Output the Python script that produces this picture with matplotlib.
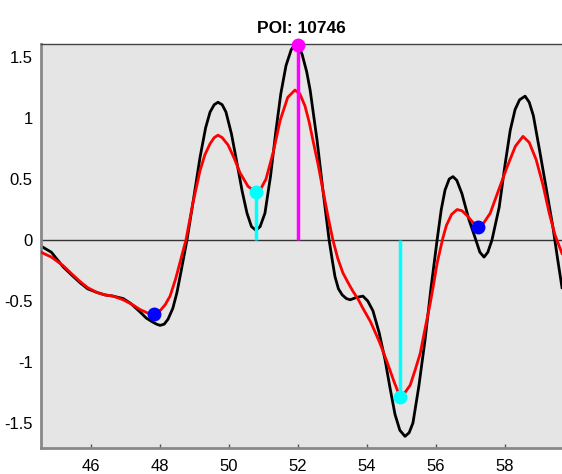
import matplotlib.pyplot as plt

plt.rcParams['font.family'] = ['Liberation Sans', 'DejaVu Sans']
plt.rcParams['axes.unicode_minus'] = False

# black (raw) trace
raw_x = [44.55, 44.85, 45.19, 45.45, 45.68, 45.9, 46.17, 46.4, 46.64, 46.93,
         47.15, 47.42, 47.6, 47.77, 47.9, 48.0, 48.12, 48.23, 48.37, 48.49,
         48.6, 48.7, 48.78, 48.95, 49.16, 49.32, 49.45, 49.57, 49.68, 49.8,
         49.91, 50.07, 50.23, 50.38, 50.52, 50.65, 50.78, 50.9, 51.04, 51.2,
         51.36, 51.5, 51.65, 51.8, 51.9, 52.0, 52.12, 52.25, 52.35, 52.55,
         52.72, 52.9, 53.0, 53.07, 53.17, 53.28, 53.4, 53.51, 53.7, 53.88,
         54.02, 54.17, 54.35, 54.52, 54.67, 54.81, 54.95, 55.1, 55.22, 55.33,
         55.5, 55.68, 55.85, 56.03, 56.15, 56.26, 56.38, 56.49, 56.6, 56.75,
         56.95, 57.13, 57.27, 57.39, 57.5, 57.62, 57.83, 58.0, 58.15, 58.29,
         58.42, 58.58, 58.7, 58.82, 59.01, 59.22, 59.39, 59.52, 59.65]
raw_y = [-0.05, -0.10, -0.22, -0.29, -0.35, -0.40, -0.43, -0.45, -0.46, -0.48,
         -0.52, -0.59, -0.64, -0.67, -0.69, -0.70, -0.69, -0.65, -0.56, -0.43,
         -0.27, -0.12, 0.0, 0.30, 0.68, 0.92, 1.05, 1.11, 1.13, 1.11,
         1.05, 0.87, 0.63, 0.40, 0.22, 0.11, 0.08, 0.11, 0.22, 0.52,
         0.90, 1.20, 1.43, 1.56, 1.60, 1.60, 1.52, 1.38, 1.23, 0.82,
         0.41, 0.0, -0.18, -0.30, -0.40, -0.45, -0.48, -0.49, -0.47, -0.46,
         -0.50, -0.58, -0.76, -0.98, -1.22, -1.43, -1.56, -1.61, -1.58, -1.50,
         -1.20, -0.82, -0.40, 0.0, 0.25, 0.41, 0.50, 0.52, 0.49, 0.38,
         0.17, 0.02, -0.10, -0.14, -0.10, 0.0, 0.27, 0.62, 0.90, 1.07,
         1.15, 1.18, 1.13, 1.02, 0.72, 0.38, 0.10, -0.15, -0.39]

# red (smoothed) trace
smooth_x = [44.55, 44.85, 45.19, 45.45, 45.68, 45.9, 46.17, 46.4, 46.64, 46.93,
            47.2, 47.42, 47.65, 47.83, 48.0, 48.15, 48.29, 48.45, 48.6, 48.75,
            48.95, 49.16, 49.3, 49.45, 49.57, 49.68, 49.8, 49.97, 50.15, 50.32,
            50.55, 50.78, 50.92, 51.07, 51.28, 51.48, 51.7, 51.91, 52.05, 52.2,
            52.32, 52.43, 52.58, 52.72, 52.87, 53.01, 53.15, 53.3, 53.45, 53.59,
            53.75, 53.88, 54.1, 54.35, 54.58, 54.78, 54.96, 55.1, 55.25, 55.4,
            55.54, 55.7, 55.83, 55.93, 56.03, 56.2, 56.3, 56.45, 56.61, 56.75,
            56.9, 57.05, 57.22, 57.38, 57.57, 57.8, 58.06, 58.3, 58.52, 58.7,
            58.9, 59.1, 59.28, 59.45, 59.65]
smooth_y = [-0.10, -0.14, -0.21, -0.28, -0.34, -0.39, -0.43, -0.45, -0.46, -0.49,
            -0.53, -0.57, -0.60, -0.61, -0.58, -0.53, -0.46, -0.32, -0.16, 0.0,
            0.30, 0.57, 0.70, 0.79, 0.84, 0.86, 0.84, 0.78, 0.67, 0.55,
            0.44, 0.39, 0.42, 0.50, 0.72, 0.98, 1.17, 1.23, 1.20, 1.10,
            0.97, 0.82, 0.62, 0.41, 0.19, 0.0, -0.15, -0.27, -0.35, -0.42,
            -0.49, -0.56, -0.67, -0.83, -1.00, -1.16, -1.29, -1.25, -1.19, -1.06,
            -0.93, -0.70, -0.52, -0.36, -0.19, 0.02, 0.12, 0.21, 0.25, 0.24,
            0.20, 0.15, 0.11, 0.14, 0.22, 0.40, 0.60, 0.77, 0.85, 0.80,
            0.66, 0.45, 0.22, 0.04, -0.11]

# points of interest
peak_x, peak_y = [52.0], [1.60]
cyan_x, cyan_y = [50.78, 54.96], [0.39, -1.29]
blue_x, blue_y = [47.83, 57.22], [-0.61, 0.11]

xticks = [46, 48, 50, 52, 54, 56, 58]
yticks = [-1.5, -1, -0.5, 0, 0.5, 1, 1.5]
ytick_labels = ['-1.5', '-1', '-0.5', '0', '0.5', '1', '1.5']

fig = plt.figure(figsize=(5.62, 4.74), dpi=100)
ax = fig.add_axes([0.073, 0.055, 0.927, 0.852])
ax.set_facecolor('#e5e5e5')

ax.axhline(0, color='#333333', lw=1, zorder=1)
ax.plot(raw_x, raw_y, color='black', lw=2, zorder=2)
ax.plot(smooth_x, smooth_y, color='red', lw=2, zorder=3)

ax.vlines(peak_x, 0, peak_y, color='magenta', lw=2.5, zorder=4)
ax.vlines(cyan_x, 0, cyan_y, color='cyan', lw=2.5, zorder=4)
ax.plot(peak_x, peak_y, 'o', color='magenta', ms=9, zorder=5, clip_on=False)
ax.plot(cyan_x, cyan_y, 'o', color='cyan', ms=9, zorder=5)
ax.plot(blue_x, blue_y, 'o', color='blue', ms=9, zorder=5)

ax.set_xlim(44.55, 59.65)
ax.set_ylim(-1.705, 1.607)
ax.set_xticks(xticks)
ax.set_yticks(yticks)
ax.set_yticklabels(ytick_labels)
ax.tick_params(axis='x', direction='in', length=3, width=1, color='#555555',
               labelsize=12, pad=8)
ax.tick_params(axis='y', length=0, labelsize=12, pad=6)

for side in ['left', 'bottom']:
    ax.spines[side].set_color('#888888')
    ax.spines[side].set_linewidth(2)
ax.spines['top'].set_color('#444444')
ax.spines['top'].set_linewidth(1)
ax.spines['right'].set_visible(False)

ax.set_title('POI: 10746', fontsize=12.5, fontweight='bold', pad=8)

plt.savefig('out.png')
